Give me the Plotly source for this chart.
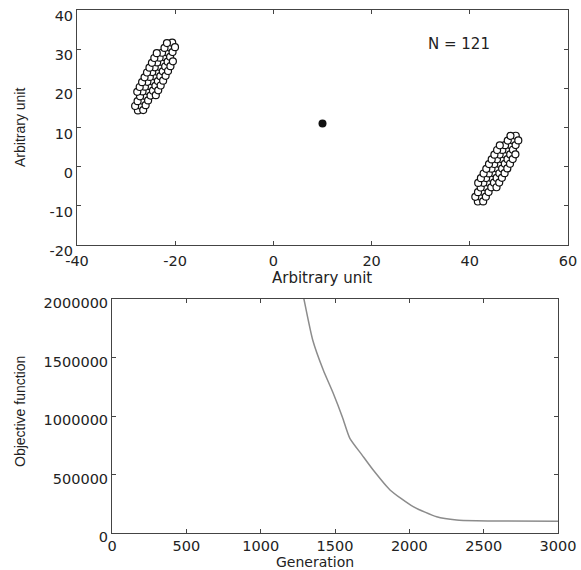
import plotly.graph_objects as go

# ---- top panel: particle positions (arbitrary units) ----
cluster1_x = [-27.59, -27.09, -26.59, -26.09, -25.59, -25.10, -24.60, -24.10,
              -23.60, -23.10, -22.61, -22.11, -21.61, -21.11, -20.61,
              -26.52, -26.02, -25.52, -25.02, -24.53, -24.03, -23.53,
              -23.03, -22.53, -22.04, -21.54, -21.04, -20.54, -20.04,
              -28.16, -27.66, -27.16, -26.66, -26.17, -25.67, -25.17,
              -24.67, -24.17, -23.68, -23.18, -22.68, -22.18, -21.68,
              -23.95, -23.46, -22.96, -22.46, -21.96, -21.46, -20.97, -20.47,
              -27.73, -27.23, -26.74, -26.24, -25.74, -25.24, -24.74, -24.25, -23.75]
cluster1_y = [14.36, 15.59, 16.83, 18.06, 19.30, 20.53, 21.77, 23.00,
              24.24, 25.47, 26.71, 27.94, 29.18, 30.41, 31.65,
              14.45, 15.69, 16.92, 18.16, 19.39, 20.63, 21.86,
              23.10, 24.33, 25.57, 26.80, 28.04, 29.27, 30.51,
              15.49, 16.73, 17.96, 19.20, 20.43, 21.67, 22.90,
              24.14, 25.37, 26.61, 27.84, 29.08, 30.31, 31.55,
              18.25, 19.49, 20.72, 21.96, 23.19, 24.43, 25.66, 26.90,
              19.10, 20.34, 21.57, 22.81, 24.04, 25.28, 26.51, 27.75, 28.98]

cluster2_x = [41.64, 42.19, 42.75, 43.30, 43.85, 44.40, 44.95, 45.50,
              46.05, 46.60, 47.15, 47.70, 48.26, 48.81, 49.36,
              42.72, 43.27, 43.82, 44.37, 44.92, 45.47, 46.02,
              46.58, 47.13, 47.68, 48.23, 48.78, 49.33, 49.88,
              41.12, 41.67, 42.22, 42.77, 43.32, 43.87, 44.42,
              44.98, 45.53, 46.08, 46.63, 47.18, 47.73, 48.28,
              45.44, 45.99, 46.54, 47.09, 47.64, 48.19, 48.74, 49.29,
              41.71, 42.26, 42.81, 43.36, 43.91, 44.46, 45.01, 45.56, 46.11]
cluster2_y = [-8.89, -7.69, -6.50, -5.30, -4.10, -2.90, -1.70, -0.50,
              0.70, 1.90, 3.10, 4.30, 5.50, 6.69, 7.89,
              -8.87, -7.67, -6.48, -5.28, -4.08, -2.88, -1.68,
              -0.48, 0.72, 1.92, 3.12, 4.32, 5.51, 6.71,
              -7.71, -6.51, -5.32, -4.12, -2.92, -1.72, -0.52,
              0.68, 1.88, 3.08, 4.28, 5.48, 6.67, 7.87,
              -5.25, -4.05, -2.85, -1.65, -0.45, 0.75, 1.95, 3.15,
              -4.15, -2.95, -1.75, -0.55, 0.65, 1.85, 3.05, 4.25, 5.45]

center_x = [10]
center_y = [11]

top_xticks = [-40, -20, 0, 20, 40, 60]
top_xlabels = ["-40", "-20", "0", "20", "40", "60"]
top_yticks = [-20, -10, 0, 10, 20, 30, 40]
top_ylabels = ["-20", "-10", "0", "10", "20", "30", "40"]

# ---- bottom panel: objective function vs generation ----
generation = [1200, 1291, 1350, 1421, 1488, 1550, 1600, 1680, 1757,
              1870, 2026, 2184, 2318, 2450, 2600, 3000]
objective = [2600000, 2000000, 1650000, 1393000, 1194000, 990000, 809000,
             670000, 538000, 368000, 225000, 139000, 111000, 104000,
             102000, 100000]

bot_xticks = [0, 500, 1000, 1500, 2000, 2500, 3000]
bot_xlabels = ["0", "500", "1000", "1500", "2000", "2500", "3000"]
bot_yticks = [0, 500000, 1000000, 1500000, 2000000]
bot_ylabels = ["0", "500000", "1000000", "1500000", "2000000"]

W, H = 581, 570


def fx(p):
    return p / W


def fy(p):
    return 1 - p / H


tickfont = dict(family="DejaVu Sans", size=14.5, color="#222")

fig = go.Figure()

marker_open = dict(size=7, color="white", line=dict(color="#111", width=1.2))
fig.add_trace(go.Scatter(x=cluster1_x, y=cluster1_y, mode="markers",
                         marker=marker_open, xaxis="x", yaxis="y",
                         showlegend=False))
fig.add_trace(go.Scatter(x=cluster2_x, y=cluster2_y, mode="markers",
                         marker=marker_open, xaxis="x", yaxis="y",
                         showlegend=False))
fig.add_trace(go.Scatter(x=center_x, y=center_y, mode="markers",
                         marker=dict(size=8, color="#111"),
                         xaxis="x", yaxis="y", showlegend=False))

fig.add_trace(go.Scatter(x=generation, y=objective, mode="lines",
                         line=dict(color="#8c8c8c", width=1.5,
                                   shape="spline", smoothing=0.6),
                         xaxis="x2", yaxis="y2", showlegend=False))

axis_common = dict(showgrid=False, zeroline=False, showline=True,
                   linecolor="#444", linewidth=1, mirror="ticks",
                   ticks="inside", ticklen=4, tickcolor="#444",
                   tickfont=tickfont, automargin=False, tickmode="array",
                   ticklabeloverflow="allow")

fig.update_layout(
    template="none",
    width=W, height=H,
    margin=dict(l=0, r=0, t=0, b=0, autoexpand=False),
    paper_bgcolor="white", plot_bgcolor="white",
    xaxis=dict(domain=[fx(77), fx(568)], range=[-40, 60],
               tickvals=top_xticks, ticktext=top_xlabels, anchor="y",
               ticklabelstandoff=3, **axis_common),
    yaxis=dict(domain=[fy(245), fy(10)], range=[-20, 40],
               tickvals=top_yticks, ticktext=top_ylabels, anchor="x",
               ticklabelshift=6, **axis_common),
    xaxis2=dict(domain=[fx(112), fx(558)], range=[0, 3000],
                tickvals=bot_xticks, ticktext=bot_xlabels, anchor="y2",
                **axis_common),
    yaxis2=dict(domain=[fy(533), fy(299)], range=[0, 2000000],
                tickvals=bot_yticks, ticktext=bot_ylabels, anchor="x2",
                ticklabelshift=4, **axis_common),
)

annots = [
    dict(text="N = 121", x=37.8, y=31.3, xref="x", yref="y",
         font=dict(family="DejaVu Sans", size=15, color="#222")),
    dict(text="Arbitrary unit", x=fx(322), y=fy(278), xref="paper", yref="paper",
         font=dict(family="DejaVu Sans", size=15, color="#222")),
    dict(text="Arbitrary unit", x=fx(20), y=fy(127), xref="paper", yref="paper",
         textangle=-90,
         font=dict(family="Liberation Sans", size=14, color="#222")),
    dict(text="Objective function", x=fx(20), y=fy(412), xref="paper", yref="paper",
         textangle=-90,
         font=dict(family="Liberation Sans", size=14, color="#222")),
    dict(text="Generation", x=fx(315), y=fy(561.5), xref="paper", yref="paper",
         font=dict(family="DejaVu Sans", size=14, color="#222")),
]
for a in annots:
    a.update(showarrow=False, xanchor="center", yanchor="middle")
fig.update_layout(annotations=annots)

# remove the default page margin so the figure fills the window exactly
fig.write_html(
    "out.html",
    config={"displayModeBar": False},
    post_script="document.body.style.margin='0';"
                "document.documentElement.style.overflow='hidden';",
)
